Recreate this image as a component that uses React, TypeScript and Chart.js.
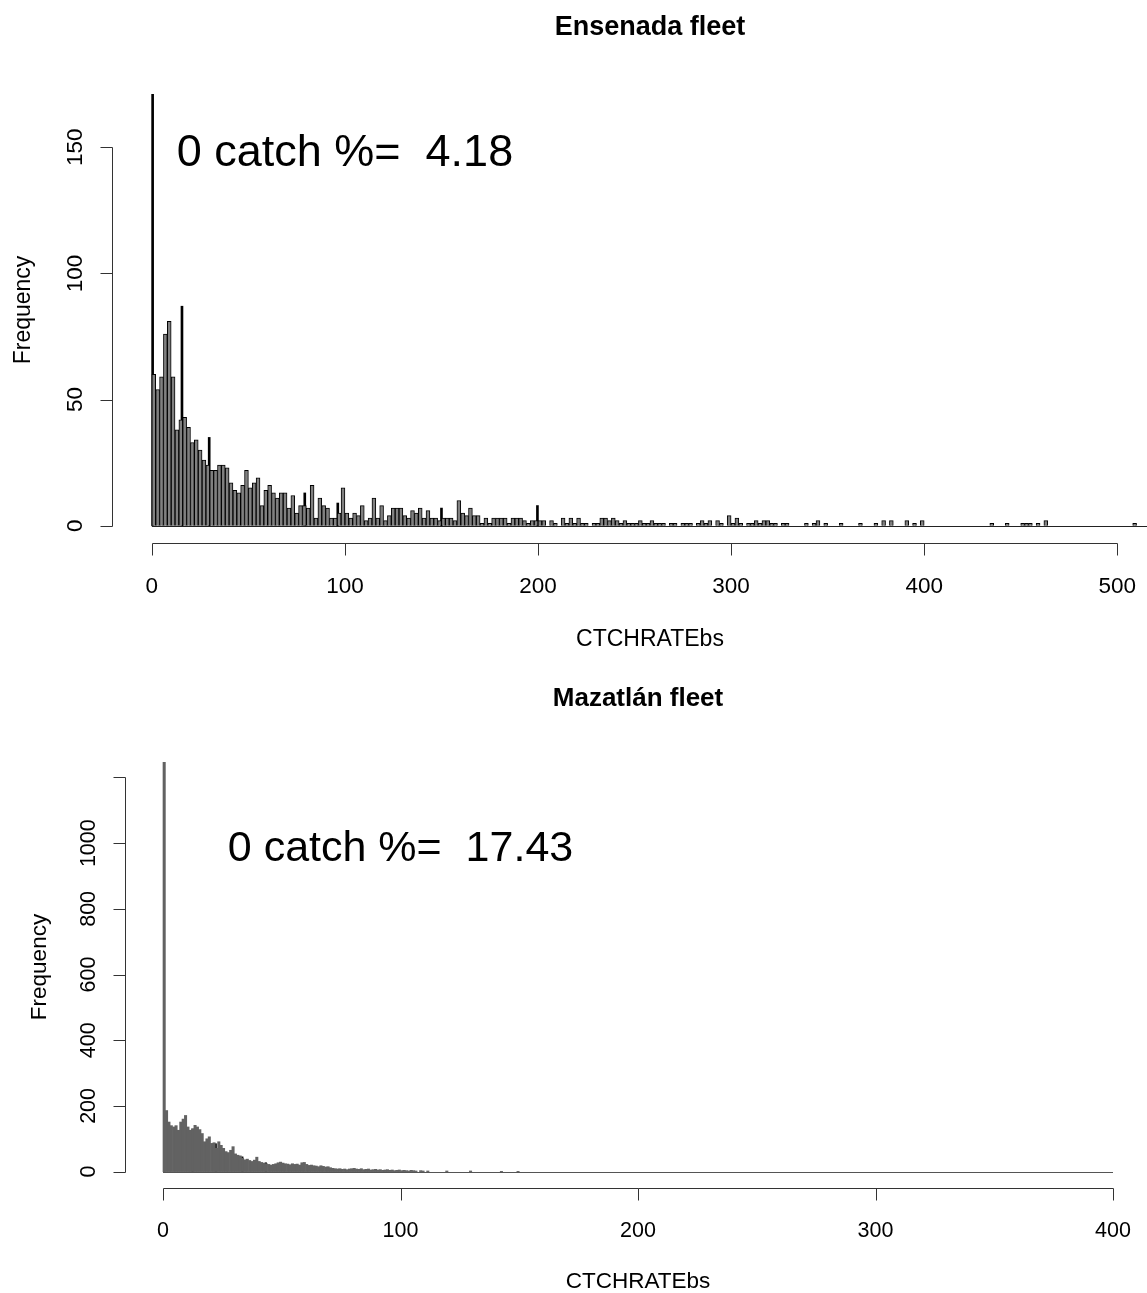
import React, { useEffect, useRef } from 'react';
import { Chart, registerables } from 'chart.js';

Chart.register(...registerables);

// ---------------- DATA: Ensenada fleet ----------------
const TOP_TITLE = 'Ensenada fleet';
const TOP_ANNOTATION = '0 catch %=  4.18';
const TOP_ANNOT_X = 100;
const TOP_ANNOT_Y = 150;
const TOP_BIN_WIDTH = 2;
// counts per bin of width 2, starting at 0
const TOP_COUNTS = [
  60, 54, 59, 76, 81, 59, 38, 42, 43, 39,
  33, 34, 30, 26, 24, 22, 22, 24, 24, 23,
  17, 14, 13, 16, 22, 15, 17, 19, 8, 14,
  16, 13, 11, 13, 13, 7, 12, 5, 8, 8,
  7, 16, 3, 11, 8, 7, 3, 3, 5, 15,
  5, 3, 5, 4, 8, 2, 3, 11, 3, 8,
  2, 4, 7, 7, 7, 4, 3, 6, 5, 7,
  3, 6, 3, 3, 2, 3, 3, 3, 2, 10,
  5, 4, 7, 4, 4, 1, 3, 1, 3, 3,
  3, 3, 1, 3, 3, 3, 2, 1, 2, 2,
  2, 2, 0, 2, 1, 0, 3, 1, 3, 1,
  3, 1, 1, 0, 1, 1, 3, 3, 2, 3,
  2, 1, 2, 1, 1, 1, 2, 1, 1, 2,
  1, 1, 1, 0, 1, 1, 0, 1, 1, 1,
  0, 1, 2, 1, 2, 0, 2, 1, 0, 4,
  1, 3, 1, 0, 1, 1, 2, 1, 2, 2,
  1, 1, 0, 1, 1, 0, 0, 0, 0, 1,
  0, 1, 2, 0, 1, 0, 0, 0, 1, 0,
  0, 0, 0, 1, 0, 0, 0, 1, 0, 2,
  0, 2, 0, 0, 0, 2, 0, 1, 0, 2,
  0, 0, 0, 0, 0, 0, 0, 0, 0, 0,
  0, 0, 0, 0, 0, 0, 0, 1, 0, 0,
  0, 1, 0, 0, 0, 1, 1, 1, 0, 1,
  0, 2, 0, 0, 0, 0, 0, 0, 0, 0,
  0, 0, 0, 0, 0, 0, 0, 0, 0, 0,
  0, 0, 0, 0, 1, 0, 0, 0,
];
const TOP_SPIKE_X = [0.4, 15.6, 29.7, 79.2, 96.3, 150, 199.7];
const TOP_SPIKE_Y = [171, 87, 35, 13, 9, 7, 8];
const TOP_X_TICKS = [0, 100, 200, 300, 400, 500];
const TOP_Y_TICKS = [0, 50, 100, 150];
const TOP_Y_TICK_LABELS = ['0', '50', '100', '150'];

// ---------------- DATA: Mazatlán fleet ----------------
const BOT_TITLE = 'Mazatlán fleet';
const BOT_ANNOTATION = '0 catch %=  17.43';
const BOT_ANNOT_X = 100;
const BOT_ANNOT_Y = 1000;
const BOT_BIN_WIDTH = 1;
const BOT_RANGE_END = 400;
// counts per bin of width 1, starting at 0 (bins beyond are empty up to BOT_RANGE_END)
const BOT_COUNTS = [
  1246,
  186, 151, 140, 136, 140, 126, 151, 160, 171, 136,
  126, 131, 141, 136, 128, 116, 91, 100, 106, 86,
  88, 71, 91, 80, 71, 61, 58, 65, 76, 54,
  50, 48, 41, 36, 38, 34, 31, 35, 44, 31,
  28, 26, 24, 22, 20, 22, 24, 27, 29, 26,
  24, 23, 21, 24, 22, 23, 20, 27, 28, 22,
  19, 20, 18, 17, 15, 18, 16, 14, 15, 12,
  10, 9, 8, 9, 7, 8, 6, 8, 9, 10,
  8, 7, 9, 6, 7, 8, 5, 6, 7, 5,
  6, 4, 5, 6, 4, 5, 3, 4, 5, 3,
  4, 3, 2, 4, 3, 2, 0, 3, 2, 0,
  2, 0, 0, 0, 0, 0, 0, 0, 2, 0,
  0, 0, 0, 0, 0, 0, 0, 0, 2, 0,
  0, 0, 0, 0, 0, 0, 0, 0, 0, 0,
  0, 1, 0, 0, 0, 0, 0, 0, 1, 0,
];
const BOT_SPIKE_X = [12.4, 22.2, 33.4, 43.3];
const BOT_SPIKE_Y = [128, 85, 45, 27];
const BOT_X_TICKS = [0, 100, 200, 300, 400];
const BOT_Y_TICKS = [0, 200, 400, 600, 800, 1000, 1200];
const BOT_Y_TICK_LABELS = ['0', '200', '400', '600', '800', '1000', ''];

const X_LABEL = 'CTCHRATEbs';
const Y_LABEL = 'Frequency';
const FONT = '"Liberation Sans", Arial, Helvetica, sans-serif';

type Spec = {
  title: string;
  annotation: string;
  annotX: number;
  annotY: number;
  binWidth: number;
  counts: number[];
  rangeEnd: number;
  spikeX: number[];
  spikeY: number[];
  xTicks: number[];
  yTicks: number[];
  yTickLabels: string[];
  yMaxData: number;
  width: number;
  height: number;
  pad: { left: number; right: number; top: number; bottom: number };
  titleBase: number;
  xTickBase: number;
  xLabelBase: number;
  yTickBase: number;
  yLabelBase: number;
  titleSize: number;
  labelSize: number;
  tickSize: number;
  annotSize: number;
  barFill: string;
  barBorder: string;
  barBorderWidth: number;
  spikeColor: string;
  spikeWidth: number;
  baselineColor: string;
  axisColor: string;
};

function makePlugin(spec: Spec) {
  return {
    id: 'rstyle',
    afterDatasetsDraw(chart: any) {
      const { ctx, scales } = chart;
      const xs = scales.x;
      const ys = scales.y;
      ctx.save();
      ctx.strokeStyle = spec.baselineColor;
      ctx.lineWidth = 1;
      const y0 = Math.round(ys.getPixelForValue(0)) + 0.5;
      ctx.beginPath();
      ctx.moveTo(xs.getPixelForValue(0), y0);
      ctx.lineTo(xs.getPixelForValue(spec.rangeEnd), y0);
      ctx.stroke();
      ctx.restore();
    },
    afterDraw(chart: any) {
      const { ctx, chartArea, scales } = chart;
      const xs = scales.x;
      const ys = scales.y;
      ctx.save();
      ctx.fillStyle = '#000';
      ctx.strokeStyle = spec.axisColor;
      ctx.lineWidth = 1;
      const tickLen = 12;

      // x axis
      const ay = Math.round(chartArea.bottom) + 0.5;
      const xFirst = xs.getPixelForValue(spec.xTicks[0]);
      const xLast = xs.getPixelForValue(spec.xTicks[spec.xTicks.length - 1]);
      ctx.beginPath();
      ctx.moveTo(Math.round(xFirst) + 0.5, ay);
      ctx.lineTo(Math.round(xLast) + 0.5, ay);
      spec.xTicks.forEach((t) => {
        const px = Math.round(xs.getPixelForValue(t)) + 0.5;
        ctx.moveTo(px, ay);
        ctx.lineTo(px, ay + tickLen);
      });
      ctx.stroke();
      ctx.font = `${spec.tickSize}px ${FONT}`;
      ctx.textAlign = 'center';
      ctx.textBaseline = 'alphabetic';
      spec.xTicks.forEach((t) => {
        ctx.fillText(String(t), xs.getPixelForValue(t), spec.xTickBase);
      });

      // y axis
      const ax = Math.round(chartArea.left) + 0.5;
      const yFirst = ys.getPixelForValue(spec.yTicks[0]);
      const yLast = ys.getPixelForValue(spec.yTicks[spec.yTicks.length - 1]);
      ctx.beginPath();
      ctx.moveTo(ax, Math.round(yFirst) + 0.5);
      ctx.lineTo(ax, Math.round(yLast) + 0.5);
      spec.yTicks.forEach((t) => {
        const py = Math.round(ys.getPixelForValue(t)) + 0.5;
        ctx.moveTo(ax - tickLen, py);
        ctx.lineTo(ax, py);
      });
      ctx.stroke();
      spec.yTicks.forEach((t, i) => {
        const label = spec.yTickLabels[i];
        if (!label) return;
        ctx.save();
        ctx.translate(spec.yTickBase, ys.getPixelForValue(t));
        ctx.rotate(-Math.PI / 2);
        ctx.fillText(label, 0, 0);
        ctx.restore();
      });

      // axis titles
      const cx = (chartArea.left + chartArea.right) / 2;
      const cy = (chartArea.top + chartArea.bottom) / 2;
      ctx.font = `${spec.labelSize}px ${FONT}`;
      ctx.fillText(X_LABEL, cx, spec.xLabelBase);
      ctx.save();
      ctx.translate(spec.yLabelBase, cy);
      ctx.rotate(-Math.PI / 2);
      ctx.fillText(Y_LABEL, 0, 0);
      ctx.restore();

      // main title
      ctx.font = `bold ${spec.titleSize}px ${FONT}`;
      ctx.fillText(spec.title, cx, spec.titleBase);

      // annotation
      ctx.font = `${spec.annotSize}px ${FONT}`;
      ctx.fillText(
        spec.annotation,
        xs.getPixelForValue(spec.annotX),
        ys.getPixelForValue(spec.annotY) + 0.42 * spec.annotSize
      );
      ctx.restore();
    },
  };
}

function HistChart({ spec }: { spec: Spec }) {
  const ref = useRef<HTMLCanvasElement | null>(null);
  useEffect(() => {
    if (!ref.current) return;
    const range = spec.rangeEnd;
    const xMin = -0.04 * range;
    const xMax = 1.04 * range;
    const yMin = -0.04 * spec.yMaxData;
    const yMax = 1.04 * spec.yMaxData;
    const areaW = spec.width - spec.pad.left - spec.pad.right;
    const pxPerUnit = areaW / (xMax - xMin);
    const bars = spec.counts
      .map((c, i) => ({ x: i * spec.binWidth + spec.binWidth / 2, y: c }))
      .filter((p) => p.y > 0);
    const spikes = spec.spikeX.map((x, i) => ({ x, y: spec.spikeY[i] }));
    const chart = new Chart(ref.current, {
      type: 'bar',
      data: {
        datasets: [
          {
            data: bars as any,
            grouped: false,
            barThickness: spec.binWidth * pxPerUnit,
            backgroundColor: spec.barFill,
            borderColor: spec.barBorder,
            borderWidth: spec.barBorderWidth,
            borderSkipped: 'start',
          } as any,
          {
            data: spikes as any,
            grouped: false,
            barThickness: spec.spikeWidth,
            backgroundColor: spec.spikeColor,
            borderWidth: 0,
          } as any,
        ],
      },
      options: {
        animation: false,
        responsive: false,
        maintainAspectRatio: false,
        layout: { padding: spec.pad },
        plugins: { legend: { display: false }, tooltip: { enabled: false }, title: { display: false } },
        scales: {
          x: { type: 'linear', min: xMin, max: xMax, display: false, offset: false },
          y: { type: 'linear', min: yMin, max: yMax, display: false },
        },
      },
      plugins: [makePlugin(spec)],
    });
    return () => chart.destroy();
  }, [spec]);
  return <canvas ref={ref} width={spec.width} height={spec.height} style={{ display: 'block' }} />;
}

const topSpec: Spec = {
  title: TOP_TITLE,
  annotation: TOP_ANNOTATION,
  annotX: TOP_ANNOT_X,
  annotY: TOP_ANNOT_Y,
  binWidth: TOP_BIN_WIDTH,
  counts: TOP_COUNTS,
  rangeEnd: TOP_COUNTS.length * TOP_BIN_WIDTH,
  spikeX: TOP_SPIKE_X,
  spikeY: TOP_SPIKE_Y,
  xTicks: TOP_X_TICKS,
  yTicks: TOP_Y_TICKS,
  yTickLabels: TOP_Y_TICK_LABELS,
  yMaxData: Math.max(...TOP_COUNTS, ...TOP_SPIKE_Y),
  width: 1190,
  height: 650,
  pad: { left: 112, right: 2, top: 77, bottom: 107 },
  titleBase: 35,
  xTickBase: 593,
  xLabelBase: 646,
  yTickBase: 82,
  yLabelBase: 30,
  titleSize: 27,
  labelSize: 23,
  tickSize: 22.5,
  annotSize: 45,
  barFill: '#808080',
  barBorder: '#000',
  barBorderWidth: 1,
  spikeColor: '#000',
  spikeWidth: 2,
  baselineColor: '#222',
  axisColor: '#333',
};

const botSpec: Spec = {
  title: BOT_TITLE,
  annotation: BOT_ANNOTATION,
  annotX: BOT_ANNOT_X,
  annotY: BOT_ANNOT_Y,
  binWidth: BOT_BIN_WIDTH,
  counts: BOT_COUNTS,
  rangeEnd: BOT_RANGE_END,
  spikeX: BOT_SPIKE_X,
  spikeY: BOT_SPIKE_Y,
  xTicks: BOT_X_TICKS,
  yTicks: BOT_Y_TICKS,
  yTickLabels: BOT_Y_TICK_LABELS,
  yMaxData: Math.max(...BOT_COUNTS, ...BOT_SPIKE_Y),
  width: 1160,
  height: 648,
  pad: { left: 125, right: 9, top: 101, bottom: 105 },
  titleBase: 61,
  xTickBase: 592,
  xLabelBase: 643,
  yTickBase: 95,
  yLabelBase: 46,
  titleSize: 26,
  labelSize: 22.5,
  tickSize: 21.5,
  annotSize: 43,
  barFill: '#626262',
  barBorder: '#555',
  barBorderWidth: 0,
  spikeColor: '#000',
  spikeWidth: 1.5,
  baselineColor: '#555',
  axisColor: '#333',
};

export default function App() {
  return (
    <div
      style={{
        position: 'absolute',
        left: 0,
        top: 0,
        width: 1147,
        height: 1293,
        overflow: 'hidden',
        background: '#fff',
      }}
    >
      <div style={{ position: 'absolute', left: 0, top: 0 }}>
        <HistChart spec={topSpec} />
      </div>
      <div style={{ position: 'absolute', left: 0, top: 645 }}>
        <HistChart spec={botSpec} />
      </div>
    </div>
  );
}
